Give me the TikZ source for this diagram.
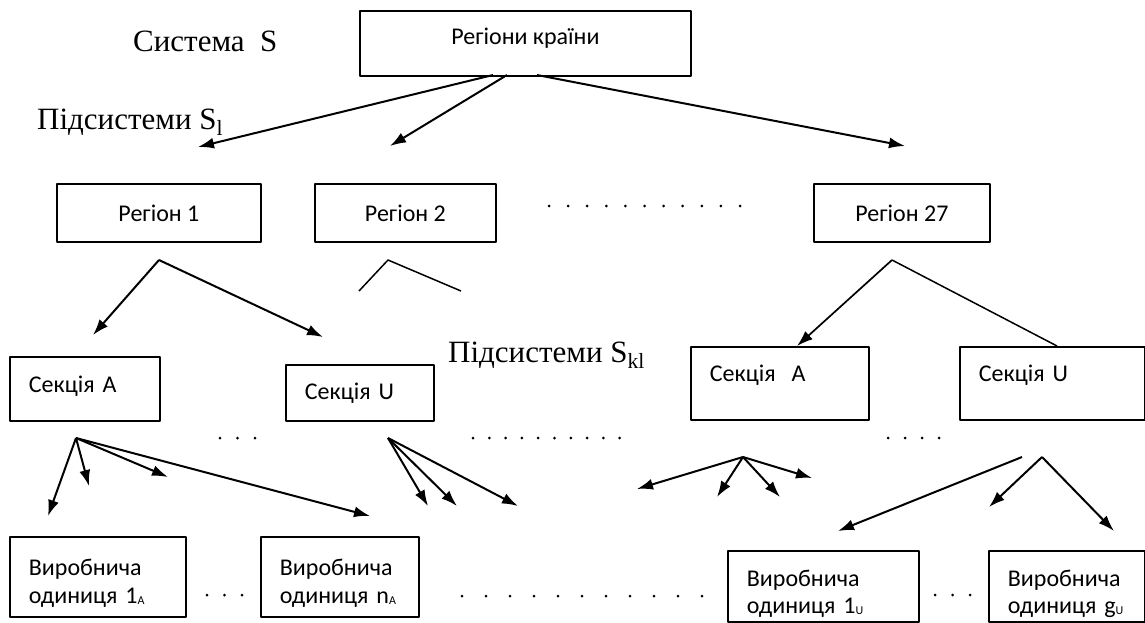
\documentclass[tikz,border=0pt]{standalone}
\usepackage{fontspec}
\setmainfont{Liberation Serif}
\newfontfamily\boxfont{Carlito}
\usetikzlibrary{arrows.meta}
\newcommand\unitidx[1]{\raisebox{-1.5pt}{\fontsize{12}{12}\selectfont #1}}
\tikzset{>={Latex[length=16pt,width=11pt]}}
\tikzset{
    box/.style={draw, line width=1.8pt, anchor=north west, inner xsep=19pt, inner ysep=0pt,
        align=left, font=\boxfont\fontsize{24}{28}\selectfont},
    cbox/.style={box, align=center, inner xsep=0pt},
    arr/.style={->, line width=2pt},
    wedge/.style={line width=1.5pt},
    lbl/.style={anchor=base west, inner sep=0pt, font=\fontsize{31}{37}\selectfont}
}

\begin{document}
\begin{tikzpicture}[x=1pt, y=-1pt, line join=round]
    \useasboundingbox (0,0) rectangle (1145,622);

    % system level
    \node[lbl] (sys) at (133,51) {Система\ \ S};
    \node[cbox, minimum width=331pt, minimum height=65pt, text depth=15pt] (top) at (359,10) {Регіони країни};
    \node[lbl] (subl) at (37,129) {Підсистеми S\textsubscript{l}};

    \coordinate (t1) at (493,75);
    \coordinate (t2) at (507,75);
    \coordinate (t3) at (537,75);
    \coordinate (r1in) at (198,147);
    \coordinate (r2in) at (390,146);
    \coordinate (r27in) at (905,146);
    \draw[arr] (t1) -- (r1in);
    \draw[arr] (t2) -- (r2in);
    \draw[arr] (t3) -- (r27in);

    % regions
    \node[cbox, minimum width=204pt, minimum height=58pt] (reg1) at (56,183) {Регіон 1};
    \node[cbox, minimum width=181pt, minimum height=58pt] (reg2) at (314,183) {Регіон 2};
    \node[cbox, minimum width=176pt, minimum height=58pt] (reg27) at (813,183) {Регіон 27};
    \foreach \i in {0,...,10} \fill (549+19.1*\i,206) circle (1.5pt);

    \coordinate (a1) at (159,260);
    \coordinate (a1l) at (93,335);
    \coordinate (a1r) at (323,337);
    \draw[arr] (a1) -- (a1l);
    \draw[arr] (a1) -- (a1r);

    \coordinate (a2) at (388,260);
    \coordinate (a2l) at (359,291);
    \coordinate (a2r) at (461,291);
    \draw[wedge] (a2l) -- (a2) -- (a2r);

    \coordinate (a27) at (892,260);
    \coordinate (a27l) at (797,346);
    \coordinate (a27r) at (1057,346);
    \draw[arr, line width=1.7pt] (a27) -- (a27l);
    \draw[wedge] (a27) -- (a27r);

    % sections
    \node[box, text width=112pt, minimum height=64pt, text depth=9pt] (secA1) at (9,356) {Секція A};
    \node[box, text width=110pt, minimum height=56pt] (secU1) at (285,364) {Секція U};
    \node[lbl] (subkl) at (448,362) {Підсистеми S\textsubscript{kl}};
    \node[box, text width=140pt, minimum height=73pt, text depth=20pt] (secA2) at (690,346) {Секція\ \ A};
    \node[box, text width=147pt, minimum height=73pt, text depth=20pt] (secU2) at (959,346) {Секція U};

    \foreach \i in {0,...,2} \fill (220+17.5*\i,438) circle (1.5pt);
    \foreach \i in {0,...,9} \fill (473+16.3*\i,438) circle (1.5pt);
    \foreach \i in {0,...,3} \fill (888+17*\i,438) circle (1.5pt);

    % fans to the units
    \coordinate (fA) at (76,438);
    \foreach \x/\y [count=\i] in {48/516,89/486,168/477,370/516}{
        \coordinate (fA\i) at (\x,\y);
        \draw[arr] (fA) -- (fA\i);
    }
    \coordinate (fU) at (388,438);
    \foreach \x/\y [count=\i] in {428/506,457/506,518/506}{
        \coordinate (fU\i) at (\x,\y);
        \draw[arr] (fU) -- (fU\i);
    }
    \coordinate (fM) at (743,457);
    \foreach \x/\y [count=\i] in {637/489,717/497,780/497,812/478}{
        \coordinate (fM\i) at (\x,\y);
        \draw[arr] (fM) -- (fM\i);
    }
    \coordinate (fR) at (1042,457);
    \foreach \x/\y [count=\i] in {989/507,1114/531}{
        \coordinate (fR\i) at (\x,\y);
        \draw[arr] (fR) -- (fR\i);
    }
    \coordinate (fR0) at (1022,457);
    \coordinate (fR3) at (838,531);
    \draw[arr] (fR0) -- (fR3);

    % production units
    \node[box, text width=138pt, minimum height=80pt] (u1A) at (9,536) {\rule{0pt}{29pt}Виробнича\\одиниця~1\unitidx{A}};
    \node[box, text width=120pt, minimum height=80pt] (unA) at (260,536) {\rule{0pt}{29pt}Виробнича\\одиниця~n\unitidx{A}};
    \node[box, text width=153pt, minimum height=71pt, font=\boxfont\fontsize{24}{27}\selectfont] (u1U) at (727,550) {\rule{0pt}{31pt}Виробнича\\одиниця~1\unitidx{U}};
    \node[box, text width=118pt, minimum height=71pt, font=\boxfont\fontsize{24}{27}\selectfont] (ugU) at (988,550) {\rule{0pt}{31pt}Виробнича\\одиниця~g\unitidx{U}};

    \foreach \i in {0,...,2} \fill (207+17.5*\i,595) circle (1.5pt);
    \foreach \i in {0,...,10} \fill (462+24*\i,596) circle (1.5pt);
    \foreach \i in {0,...,2} \fill (935+17.5*\i,595) circle (1.5pt);
\end{tikzpicture}
\end{document}
